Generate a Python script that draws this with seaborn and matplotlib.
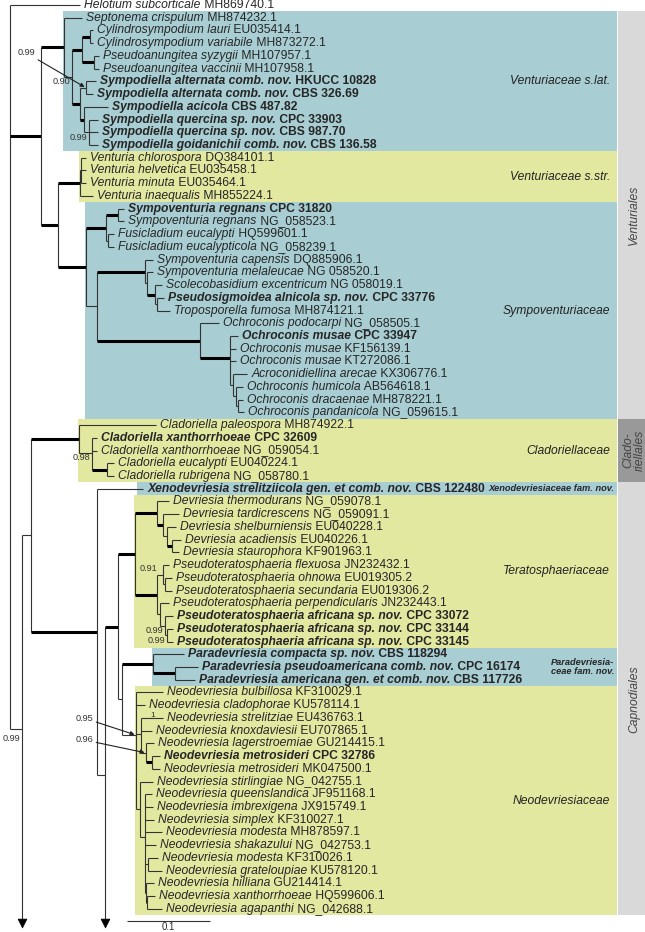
import matplotlib
matplotlib.use("Agg")
import matplotlib.pyplot as plt
from matplotlib.patches import Rectangle
import seaborn as sns
import numpy as np

# ---- taxa, top to bottom (italic part / accession part) ----
names = [
    "Helotium subcorticale", "Septonema crispulum", "Cylindrosympodium lauri",
    "Cylindrosympodium variabile", "Pseudoanungitea syzygii", "Pseudoanungitea vaccinii",
    "Sympodiella alternata comb. nov.", "Sympodiella alternata comb. nov.", "Sympodiella acicola",
    "Sympodiella quercina sp. nov.", "Sympodiella quercina sp. nov.", "Sympodiella goidanichii comb. nov.",
    "Venturia chlorospora", "Venturia helvetica", "Venturia minuta", "Venturia inaequalis",
    "Sympoventuria regnans", "Sympoventuria regnans", "Fusicladium eucalypti",
    "Fusicladium eucalypticola", "Sympoventuria capensis", "Sympoventuria melaleucae",
    "Scolecobasidium excentricum", "Pseudosigmoidea alnicola sp. nov.", "Troposporella fumosa",
    "Ochroconis podocarpi", "Ochroconis musae", "Ochroconis musae", "Ochroconis musae",
    "Acroconidiellina arecae", "Ochroconis humicola", "Ochroconis dracaenae", "Ochroconis pandanicola",
    "Cladoriella paleospora", "Cladoriella xanthorrhoeae", "Cladoriella xanthorrhoeae",
    "Cladoriella eucalypti", "Cladoriella rubrigena",
    "Xenodevriesia strelitziicola gen. et comb. nov.",
    "Devriesia thermodurans", "Devriesia tardicrescens", "Devriesia shelburniensis",
    "Devriesia acadiensis", "Devriesia staurophora", "Pseudoteratosphaeria flexuosa",
    "Pseudoteratosphaeria ohnowa", "Pseudoteratosphaeria secundaria",
    "Pseudoteratosphaeria perpendicularis", "Pseudoteratosphaeria africana sp. nov.",
    "Pseudoteratosphaeria africana sp. nov.", "Pseudoteratosphaeria africana sp. nov.",
    "Paradevriesia compacta sp. nov.", "Paradevriesia pseudoamericana comb. nov.",
    "Paradevriesia americana gen. et comb. nov.",
    "Neodevriesia bulbillosa", "Neodevriesia cladophorae", "Neodevriesia strelitziae",
    "Neodevriesia knoxdaviesii", "Neodevriesia lagerstroemiae", "Neodevriesia metrosideri",
    "Neodevriesia metrosideri", "Neodevriesia stirlingiae", "Neodevriesia queenslandica",
    "Neodevriesia imbrexigena", "Neodevriesia simplex", "Neodevriesia modesta",
    "Neodevriesia shakazului", "Neodevriesia modesta", "Neodevriesia grateloupiae",
    "Neodevriesia hilliana", "Neodevriesia xanthorrhoeae", "Neodevriesia agapanthi",
]
accessions = [
    "MH869740.1", "MH874232.1", "EU035414.1", "MH873272.1", "MH107957.1", "MH107958.1",
    "HKUCC 10828", "CBS 326.69", "CBS 487.82", "CPC 33903", "CBS 987.70", "CBS 136.58",
    "DQ384101.1", "EU035458.1", "EU035464.1", "MH855224.1",
    "CPC 31820", "NG_058523.1", "HQ599601.1", "NG_058239.1", "DQ885906.1", "NG 058520.1",
    "NG 058019.1", "CPC 33776", "MH874121.1", "NG_058505.1", "CPC 33947", "KF156139.1",
    "KT272086.1", "KX306776.1", "AB564618.1", "MH878221.1", "NG_059615.1",
    "MH874922.1", "CPC 32609", "NG_059054.1", "EU040224.1", "NG_058780.1",
    "CBS 122480", "NG_059078.1", "NG_059091.1", "EU040228.1", "EU040226.1", "KF901963.1",
    "JN232432.1", "EU019305.2", "EU019306.2", "JN232443.1", "CPC 33072", "CPC 33144",
    "CPC 33145", "CBS 118294", "CPC 16174", "CBS 117726",
    "KF310029.1", "KU578114.1", "EU436763.1", "EU707865.1", "GU214415.1", "CPC 32786",
    "MK047500.1", "NG_042755.1", "JF951168.1", "JX915749.1", "KF310027.1", "MH878597.1",
    "NG_042753.1", "KF310026.1", "KU578120.1", "GU214414.1", "HQ599606.1", "NG_042688.1",
]
bold_rows = [6, 7, 8, 9, 10, 11, 16, 23, 26, 34, 38, 48, 49, 50, 51, 52, 53, 59]

# ---- tree pieces (newick: leaf = row number, v = arrow, label = posterior, length in subst./site)
# "1.0" = full support (bold branch, value not printed)
venturiaceae_sl = ("(1:0.0217,(((2:0.0036,3:0.0036)1.0:0.0096,(4:0.006,5:0.006)1.0:0.0145)1.0:0.012,"
                   "((6:0.012,7:0.0084)0.99:0.0072,(8:0.0289,(9:0.0108,10:0.0108,11:0.0108)0.99:0.006)"
                   "1.0:0.0048)1.0:0.0096)0.90:0.0096)1.0:0.0277")
venturiales_rest = ("(((12:0.006,13:0.006,14:0.006):0.0012,15:0.0157)1.0:0.0265,"
                    "(((16:0.0072,17:0.0072)1.0:0.0145,(18:0.0072,19:0.0072):0.0024)1.0:0.0241,"
                    "((20:0.0096,(21:0.0072,(22:0.0084,(23:0.0084,24:0.0157):0.0024)1.0:0.0096):0.0024)1.0:0.0578,"
                    "(25:0.0229,(26:0.0096,27:0.0072,28:0.0072,(29:0.0169,(30:0.0084,(31:0.006,32:0.0072)"
                    ":0.0024):0.0036):0.0036)1.0:0.0361)1.0:0.1241):0.0133)1.0:0.0337)1.0:0.0205")
cladoriellaceae = "(33:0.0928,(34:0.006,35:0.006,(36:0.0084,37:0.0084)1.0:0.0181)0.98:0.0157)1.0:0.0578"
teratosphaeriaceae = ("((39:0.0145,(40:0.0193,(41:0.0108,(42:0.0108,43:0.0084)1.0:0.006):0.0048)1.0:0.0072)1.0:0.0265,"
                      "((44:0.0072,(45:0.0084,46:0.0084):0.0024)0.91:0.0072,(47:0.0108,(48:0.0096,"
                      "(49:0.0072,50:0.0072)0.99:0.0024)0.99:0.006):0.0036)1.0:0.0265)1.0:0.0205")
para_neodevriesia = ("((51:0.0373,(52:0.0277,53:0.0241)1.0:0.0265)1.0:0.0373,"
                     "(54:0.0325,55:0.0108,(56:0.0265,57:0.0133,(58:0.0096,(59:0.0096,60:0.0096)1.0:0.0072)"
                     "0.96:0.006)1:0.006,(61:0.0157,(62:0.0084,63:0.0096,64:0.0108,65:0.0205,66:0.0133,"
                     "(67:0.012,68:0.0169):0.0036,(69:0.0096,(70:0.0096,71:0.0181)1.0:0.0012):0.0012):0.006)"
                     ":0.0048)0.95:0.0169):0.0048")
tree_newick = ("(0:0.0843,(" + venturiaceae_sl + "," + venturiales_rest + ")1.0:0.0373,"
               "((" + cladoriellaceae + ",(38:0.0554,((" + teratosphaeriaceae + "," + para_neodevriesia +
               ")1.0:0.0157,v:0):0.0096)1.0:0.0795):0.0108,v:0)0.99:0.0145);")

families = ["Venturiaceae s.lat.", "Venturiaceae s.str.", "Sympoventuriaceae", "Cladoriellaceae",
            "Xenodevriesiaceae fam. nov.", "Teratosphaeriaceae", "Paradevriesia-\nceae fam. nov.",
            "Neodevriesiaceae"]
family_first = [1, 12, 16, 33, 38, 39, 51, 54]
family_last = [11, 15, 32, 37, 38, 50, 53, 71]
family_blue = [True, False, True, False, True, False, True, False]
family_new = [False, False, False, False, True, False, True, False]

orders = ["Venturiales", "Clado-\nriellales", "Capnodiales"]
order_first = [1, 33, 38]
order_last = [32, 37, 71]
order_dark = [False, True, False]

scale_len = 0.1

# ---- style
sns.set_theme(style="white")
plt.rcParams["font.family"] = ["Liberation Sans", "DejaVu Sans"]
FS = 8.7
BLUE, YELLOW = "#a8cdd2", "#e3e8a1"
PX = 0.72  # points per pixel at 100 dpi
ARROW_ROW = 72.1


def parse_newick(s):
    pos = 0

    def node():
        nonlocal pos
        kids = []
        if s[pos] == "(":
            pos += 1
            while True:
                kids.append(node())
                if s[pos] == ",":
                    pos += 1
                    continue
                pos += 1
                break
        start = pos
        while s[pos] not in ":,);":
            pos += 1
        label = s[start:pos]
        bl = 0.0
        if s[pos] == ":":
            pos += 1
            start = pos
            while s[pos] not in ",);":
                pos += 1
            bl = float(s[start:pos])
        return {"label": label, "bl": bl, "kids": kids}

    return node()


all_nodes = []


def place(n, x0, parent=None):
    n["x"] = x0 + n["bl"]
    n["parent"] = parent
    all_nodes.append(n)
    if not n["kids"]:
        n["y"] = ARROW_ROW if n["label"] == "v" else int(n["label"])
        n["leaves"] = [] if n["label"] == "v" else [int(n["label"])]
    else:
        for k in n["kids"]:
            place(k, n["x"], n)
        n["y"] = np.mean([k["y"] for k in n["kids"]])
        n["leaves"] = sorted(sum([k["leaves"] for k in n["kids"]], []))


root = parse_newick(tree_newick)
place(root, 0.0)

fig = plt.figure(figsize=(6.45, 9.32), dpi=100)
ax = fig.add_axes([0, 0, 1, 1])
ax.set_xlim(-10 / 830, 635 / 830)
ax.set_ylim((932 - 5) / 12.73, -5 / 12.73)
ax.axis("off")

box_right = 607 / 830
band_l, band_r = 608 / 830, 640 / 830

# clade boxes
for fam, a, b, blue, new in zip(families, family_first, family_last, family_blue, family_new):
    clade = [n for n in all_nodes if n["leaves"] == list(range(a, b + 1))][0]
    left = clade["x"] - (0.007 if not clade["kids"] else 0.0008)
    ax.add_patch(Rectangle((left, a - 0.5), box_right - left, b - a + 1,
                           color=BLUE if blue else YELLOW, lw=0, zorder=0))
    if new:
        ax.text(box_right - 3 / 830, (a + b) / 2, fam, ha="right", va="center", fontsize=6.7,
                style="italic", weight="bold", multialignment="center", linespacing=1.0)
    else:
        ax.text(box_right - 7 / 830, (a + b) / 2, fam, ha="right", va="center", fontsize=FS,
                style="italic", color="#222222")

# order bands
for o, a, b, dark in zip(orders, order_first, order_last, order_dark):
    ax.add_patch(Rectangle((band_l, a - 0.5), band_r - band_l, b - a + 1,
                           color="#999999" if dark else "#d9d9d9", lw=0, zorder=0))
    ax.text((band_l + band_r) / 2, (a + b) / 2, o, rotation=90, ha="center", va="center",
            fontsize=FS, style="italic", color="#444444", linespacing=0.95)

# branches
for n in all_nodes:
    thick = n["label"] == "1.0"
    if n["parent"] is not None and n["bl"] > 0:
        ax.hlines(n["y"], n["parent"]["x"], n["x"], color="black" if thick else "#333333",
                  lw=2.2 if thick else 0.8, zorder=2)
    if n["kids"]:
        ys = [k["y"] for k in n["kids"]]
        ax.vlines(n["x"], min(ys), max(ys), color="#333333", lw=0.8, zorder=2)

arrows = [(n["x"], n["y"]) for n in all_nodes if n["label"] == "v"]
sns.scatterplot(x=[a[0] for a in arrows], y=[a[1] + 0.05 for a in arrows], marker="v", s=40,
                color="black", edgecolor="black", ax=ax, zorder=3)

# taxon labels
for i, (nm, acc) in enumerate(zip(names, accessions)):
    leaf = [n for n in all_nodes if n["leaves"] == [i] and not n["kids"]][0]
    w = "bold" if i in bold_rows else "normal"
    t1 = ax.annotate(nm, xy=(leaf["x"], i), xytext=(3, 0), textcoords="offset points",
                     va="center", ha="left", fontsize=FS, style="italic", fontweight=w)
    ax.annotate(" " + acc, xy=(1, 0), xycoords=t1, va="bottom", ha="left",
                fontsize=FS, fontweight=w)

# support values: default just left/below of node, some moved or pointed with arrows
special = {(6, 7): (-51, -35, True), (44, 46): (-6, -6, False), (54, 71): (-43, -17, True),
           (58, 60): (-53, -13, True), (56, 60): (12, -18, False), (33, 71): (-2, 9, False)}
for n in all_nodes:
    if not n["kids"] or n["label"] in ("", "1.0"):
        continue
    key = (n["leaves"][0], n["leaves"][-1])
    dx, dy, arrow = special.get(key, (-2, 5, False))
    ha = "center" if key == (56, 60) else "right"
    ax.annotate(n["label"], xy=(n["x"], n["y"]), xytext=(dx * PX, -dy * PX),
                textcoords="offset points", ha=ha, va="center",
                fontsize=6.0 if key == (56, 60) else 6.6, color="#333333",
                arrowprops=dict(arrowstyle="-|>", color="#222222", lw=0.8, mutation_scale=6,
                                shrinkA=0, shrinkB=1) if arrow else None)

# scale bar
sb_x, sb_y = 0.141, 71.96
ax.hlines(sb_y, sb_x, sb_x + scale_len, color="#333333", lw=0.8)
ax.text(sb_x + scale_len / 2, sb_y + 0.5, "0.1", ha="center", va="center", fontsize=6.9)

fig.savefig("out.png", dpi=100)
